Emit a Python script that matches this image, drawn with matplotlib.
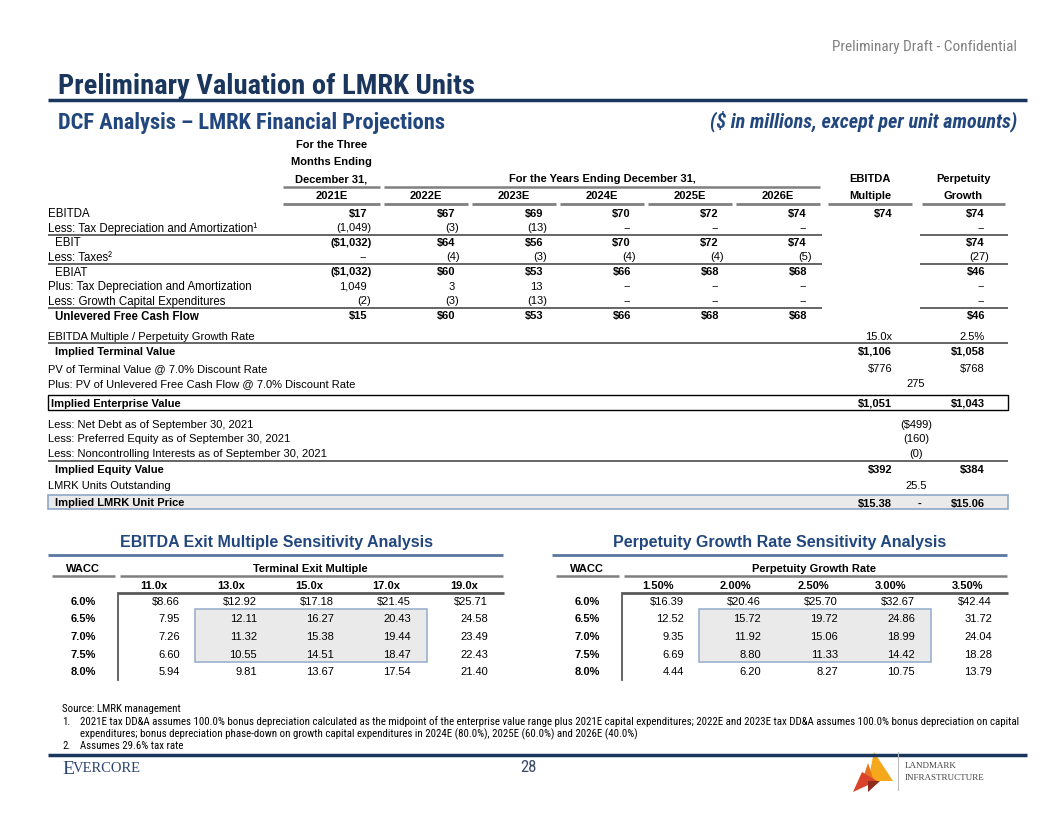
import matplotlib
matplotlib.use("Agg")
import matplotlib.pyplot as plt
from matplotlib import font_manager
from matplotlib.patches import Rectangle, Polygon

# ---- projection data ($ in millions) ----
proj_years = ["2021E", "2022E", "2023E", "2024E", "2025E", "2026E"]
ebitda = [17, 67, 69, 70, 72, 74]
tax_da = [-1049, -3, -13, 0, 0, 0]
ebit = [-1032, 64, 56, 70, 72, 74]
taxes = [0, -4, -3, -4, -4, -5]
ebiat = [-1032, 60, 53, 66, 68, 68]
plus_tax_da = [1049, 3, 13, 0, 0, 0]
growth_capex = [-2, -3, -13, 0, 0, 0]
ufcf = [15, 60, 53, 66, 68, 68]

# terminal year columns
multiple_ebitda = 74
perp_column = [74, 0, 74, -27, 46, 0, 0, 46]

# valuation bridge (EBITDA multiple, perpetuity growth)
terminal_assumptions = [15.0, 2.5]
terminal_value = [1106, 1058]
pv_terminal = [776, 768]
pv_ufcf = 275
enterprise_value = [1051, 1043]
net_debt = -499
preferred_equity = -160
noncontrolling = -0.2
equity_value = [392, 384]
units_outstanding = 25.5
unit_price = [15.38, 15.06]

# sensitivity tables
wacc = [6.0, 6.5, 7.0, 7.5, 8.0]
exit_multiples = [11.0, 13.0, 15.0, 17.0, 19.0]
exit_prices = [[8.66, 12.92, 17.18, 21.45, 25.71],
               [7.95, 12.11, 16.27, 20.43, 24.58],
               [7.26, 11.32, 15.38, 19.44, 23.49],
               [6.60, 10.55, 14.51, 18.47, 22.43],
               [5.94, 9.81, 13.67, 17.54, 21.40]]
growth_rates = [1.50, 2.00, 2.50, 3.00, 3.50]
growth_prices = [[16.39, 20.46, 25.70, 32.67, 42.44],
                 [12.52, 15.72, 19.72, 24.86, 31.72],
                 [9.35, 11.92, 15.06, 18.99, 24.04],
                 [6.69, 8.80, 11.33, 14.42, 18.28],
                 [4.44, 6.20, 8.27, 10.75, 13.79]]

footnotes = [
    "Source: LMRK management",
    "2021E tax DD&A assumes 100.0% bonus depreciation calculated as the midpoint of the enterprise value range plus 2021E capital expenditures; 2022E and 2023E tax DD&A assumes 100.0% bonus depreciation on capital",
    "expenditures; bonus depreciation phase-down on growth capital expenditures in 2024E (80.0%), 2025E (60.0%) and 2026E (40.0%)",
    "Assumes 29.6% tax rate",
]

names = {f.name for f in font_manager.fontManager.ttflist}
BODY = "Liberation Sans"
NARROW, NSTRETCH, NSCALE = "DejaVu Sans", "condensed", 0.79
for cand in ["Liberation Sans Narrow", "Roboto Condensed", "Open Sans Condensed"]:
    if cand in names:
        NARROW, NSTRETCH, NSCALE = cand, "normal", 1.0
        break
SERIF = "Liberation Serif"

NAVY = "#1B365D"
BLUE = "#22477F"
GRID = "#595959"


def fmt(v, dollar=False, dec=0):
    if v == 0:
        return "--"
    s = f"{abs(v):,.{dec}f}"
    if dollar:
        s = "$" + s
    return f"({s})" if v < 0 else s


fig = plt.figure(figsize=(10.56, 8.16), dpi=100)
ax = fig.add_axes([0, 0, 1, 1])
ax.set_xlim(0, 1056)
ax.set_ylim(816, 0)
ax.axis("off")


def txt(x, y, s, size=8, bold=False, ha="left", color="black", family=None, **kw):
    ax.text(x, y, s, fontsize=size, fontweight="bold" if bold else "normal", ha=ha,
            va="center_baseline", color=color, family=family or BODY, **kw)


def ntxt(x, y, s, size, **kw):
    # narrow (Arial Narrow-like) text, scaled when only a condensed face is available
    txt(x, y, s, size=size * NSCALE, family=NARROW, fontstretch=NSTRETCH, **kw)


def num(xr, y, s, bold=False, size=8):
    # accounting style: closing parenthesis hangs past the digits
    x = xr + 4.5 if s.endswith(")") else xr
    txt(x, y, s, size=size, bold=bold, ha="right")


def hline(x0, x1, y, color=GRID, lw=1.3):
    ax.plot([x0, x1], [y, y], color=color, lw=lw, solid_capstyle="butt")


# ---- page header ----
ntxt(1017, 45, "Preliminary Draft - Confidential", 11, ha="right", color="#808080")
ntxt(58, 83, "Preliminary Valuation of LMRK Units", 20.5, bold=True, color=NAVY)
hline(48, 1027, 100, color=NAVY, lw=2.5)
ntxt(58, 121, "DCF Analysis \u2013 LMRK Financial Projections", 16.2, bold=True, color=BLUE)
ntxt(1017, 119, "($ in millions, except per unit amounts)", 14.5, bold=True, color=BLUE,
     ha="right", style="italic")

# ---- projection table ----
LX = 48
year_right = [367 + 88 * i for i in range(6)]
year_end = [380 + 88 * i for i in range(6)]
year_start = [283] + [e - 84 for e in year_end[1:]]
MULT_R, PERP_R, MID_X = 892, 985, 916
mult_span = (828, 912)
perp_span = (922, 1005)

for s, y in zip(["For the Three", "Months Ending", "December 31,"], [144, 161, 178]):
    txt((year_start[0] + year_end[0]) / 2, y, s, bold=True, ha="center")
txt((year_start[1] + year_end[-1]) / 2, 178, "For the Years Ending December 31,", bold=True, ha="center")
hline(year_start[0], year_end[0], 186.5, color="#7F7F7F", lw=1.8)
hline(year_start[1], year_end[-1], 186.5, color="#7F7F7F", lw=1.8)
txt(sum(mult_span) / 2, 178, "EBITDA", bold=True, ha="center")
txt(sum(mult_span) / 2, 195, "Multiple", bold=True, ha="center")
txt(sum(perp_span) / 2, 178, "Perpetuity", bold=True, ha="center")
txt(sum(perp_span) / 2, 195, "Growth", bold=True, ha="center")
for yr, x0, x1 in zip(proj_years, year_start, year_end):
    txt((x0 + x1) / 2, 195, yr, bold=True, ha="center")
    hline(x0, x1, 203.5, color="#7F7F7F", lw=2)
hline(*mult_span, 203.5, color="#7F7F7F", lw=2)
hline(*perp_span, 203.5, color="#7F7F7F", lw=2)

body_rows = [
    ("EBITDA", ebitda, True, False),
    ("Less: Tax Depreciation and Amortization\u00b9", tax_da, False, False),
    ("EBIT", ebit, True, True),
    ("Less: Taxes\u00b2", taxes, False, False),
    ("EBIAT", ebiat, True, True),
    ("Plus: Tax Depreciation and Amortization", plus_tax_da, False, False),
    ("Less: Growth Capital Expenditures", growth_capex, False, False),
    ("Unlevered Free Cash Flow", ufcf, True, True),
]
body_y = [212.5, 227, 242, 256.5, 271, 285.5, 300, 315.5]
for (label, vals, dollar, indent), pv, y in zip(body_rows, perp_column, body_y):
    is_total = label.startswith("Unlevered")
    txt(LX + (7 if indent else 0), y, label, size=8.3, bold=is_total)
    for v, xr in zip(vals, year_right):
        num(xr, y, fmt(v, dollar), bold=dollar)
    num(PERP_R, y, fmt(pv, dollar), bold=dollar)
num(MULT_R, body_y[0], fmt(multiple_ebitda, True), bold=True)
for y in [234.5, 263.5, 308]:
    hline(LX, year_end[-1] + 2, y)
    hline(perp_span[0] - 2, 1008, y)

# ---- valuation bridge ----
txt(LX, 336, "EBITDA Multiple / Perpetuity Growth Rate")
num(MULT_R, 336, f"{terminal_assumptions[0]:.1f}x")
num(PERP_R, 336, f"{terminal_assumptions[1]:.1f}%")
hline(LX, 1008, 343)
txt(LX + 7, 351, "Implied Terminal Value", bold=True)
num(MULT_R, 351, fmt(terminal_value[0], True), bold=True)
num(PERP_R, 351, fmt(terminal_value[1], True), bold=True)
txt(LX, 368, "PV of Terminal Value @ 7.0% Discount Rate")
num(MULT_R, 368, fmt(pv_terminal[0], True))
num(PERP_R, 368, fmt(pv_terminal[1], True))
txt(LX, 383, "Plus: PV of Unlevered Free Cash Flow @ 7.0% Discount Rate")
txt(MID_X, 383, fmt(pv_ufcf), ha="center")

ax.add_patch(Rectangle((LX, 395), 1008 - LX, 15, fill=False, ec="black", lw=1))
txt(LX + 3, 403, "Implied Enterprise Value", bold=True)
num(MULT_R, 403, fmt(enterprise_value[0], True), bold=True)
num(PERP_R, 403, fmt(enterprise_value[1], True), bold=True)

bridge = [("Less: Net Debt as of September 30, 2021", fmt(net_debt, True)),
          ("Less: Preferred Equity as of September 30, 2021", fmt(preferred_equity)),
          ("Less: Noncontrolling Interests as of September 30, 2021", fmt(noncontrolling))]
for (label, s), y in zip(bridge, [424, 438.5, 453]):
    txt(LX, y, label)
    txt(MID_X, y, s, ha="center")
hline(LX, 1008, 461)
txt(LX + 7, 469, "Implied Equity Value", bold=True)
num(MULT_R, 469, fmt(equity_value[0], True), bold=True)
num(PERP_R, 469, fmt(equity_value[1], True), bold=True)
txt(LX, 485, "LMRK Units Outstanding")
txt(MID_X, 485, f"{units_outstanding:.1f}", ha="center")

ax.add_patch(Rectangle((LX, 495), 1008 - LX, 14, fc="#EAEAEA", ec="#8EA7C6", lw=1.2))
txt(LX + 7, 502.5, "Implied LMRK Unit Price", bold=True)
num(MULT_R, 502.5, fmt(unit_price[0], True, 2), bold=True)
txt(MID_X + 4, 502.5, "-", bold=True, ha="center")
num(PERP_R, 502.5, fmt(unit_price[1], True, 2), bold=True)


# ---- sensitivity tables ----
def sensitivity(dx, title, group, cols, col_fmt, grid):
    txt(276 + dx, 541, title, size=11.5, bold=True, ha="center", color=BLUE)
    hline(48 + dx, 503 + dx, 555, color="#5A77A0", lw=2)
    txt(83 + dx, 568, "WACC", bold=True, ha="center")
    txt(310 + dx, 568, group, bold=True, ha="center")
    hline(52 + dx, 115 + dx, 576, color="#7F7F7F", lw=1.8)
    hline(120 + dx, 503 + dx, 576, color="#7F7F7F", lw=1.8)
    for j, c in enumerate(cols):
        txt(154 + 77.5 * j + dx, 585, col_fmt(c), bold=True, ha="center")
    hline(118 + dx, 504 + dx, 592.5, color=GRID, lw=2)
    ax.plot([118 + dx, 118 + dx], [592.5, 680], color=GRID, lw=1.3)
    ax.add_patch(Rectangle((195 + dx, 609), 232, 53, fc="#EAEAEA", ec="#9CB2CF", lw=1.2))
    row_y = [601, 618.5, 636, 653.5, 671]
    for i, (w, y) in enumerate(zip(wacc, row_y)):
        txt(83 + dx, y, f"{w:.1f}%", bold=True, ha="center")
        for j, v in enumerate(grid[i]):
            s = f"${v:.2f}" if i == 0 else f"{v:.2f}"
            txt(180 + 77 * j + dx, y, s, ha="right")


sensitivity(0, "EBITDA Exit Multiple Sensitivity Analysis", "Terminal Exit Multiple",
            exit_multiples, lambda c: f"{c:.1f}x", exit_prices)
sensitivity(504, "Perpetuity Growth Rate Sensitivity Analysis", "Perpetuity Growth Rate",
            growth_rates, lambda c: f"{c:.2f}%", growth_prices)

# ---- footnotes ----
FN = 7.8
ntxt(62, 708, footnotes[0], FN)
ntxt(62, 721, "1.", FN)
ntxt(80, 721, footnotes[1], FN)
ntxt(80, 733, footnotes[2], FN)
ntxt(62, 745, "2.", FN)
ntxt(80, 745, footnotes[3], FN)

# ---- footer ----
hline(48, 1027, 755, color=NAVY, lw=2.5)
txt(62, 767, "E", size=14, color="#2C4470", family=SERIF)
txt(73, 767, "VERCORE", size=10.5, color="#2C4470", family=SERIF)
ntxt(528, 766, "28", 12, ha="center", color="#3A4A6A")
ax.add_patch(Polygon([(874, 752), (893, 781), (868, 781)], closed=True, fc="#F6A81C", ec="none"))
ax.add_patch(Polygon([(868, 763), (874, 781), (862, 781)], closed=True, fc="#E8731E", ec="none"))
ax.add_patch(Polygon([(862, 772), (877, 781), (853, 792)], closed=True, fc="#D8432A", ec="none"))
ax.add_patch(Polygon([(868, 781), (880, 781), (868, 792)], closed=True, fc="#8E2A1E", ec="none"))
ax.plot([898, 898], [752, 790], color="#BBBBBB", lw=0.8)
txt(905, 765, "LANDMARK", size=6.5, color="#444444", family=SERIF)
txt(905, 777, "INFRASTRUCTURE", size=6.5, color="#444444", family=SERIF)

fig.savefig("out.png", dpi=100)
